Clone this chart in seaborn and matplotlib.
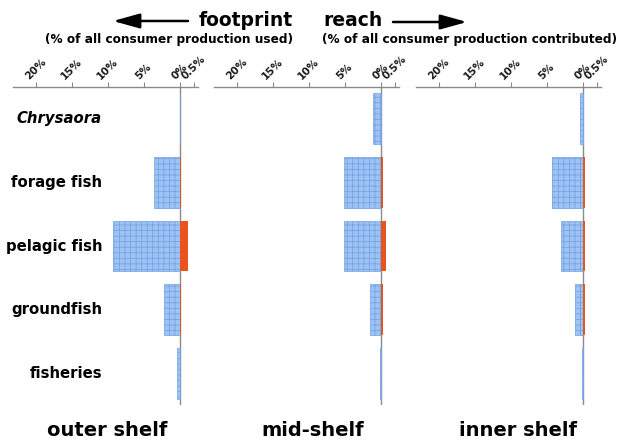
import numpy as np
import pandas as pd
import seaborn as sns
import matplotlib
matplotlib.use("Agg")
import matplotlib.pyplot as plt
from matplotlib import transforms
from matplotlib.patches import FancyArrowPatch

# Trophic groups (rows) and shelf regions (panels)
categories = ["Chrysaora", "forage fish", "pelagic fish", "groundfish", "fisheries"]
shelves = ["outer shelf", "mid-shelf", "inner shelf"]

# Footprint: % of all consumer production used
footprint_outer = [0.0, 3.6, 9.3, 2.1, 0.4]
footprint_mid = [1.1, 5.1, 5.1, 1.5, 0.1]
footprint_inner = [0.4, 4.3, 3.05, 1.1, 0.05]

# Reach: % of all consumer production contributed
reach_outer = [0.0, 0.07, 0.32, 0.06, 0.0]
reach_mid = [0.0, 0.09, 0.18, 0.07, 0.0]
reach_inner = [0.0, 0.07, 0.08, 0.09, 0.0]

footprint_ticks = [20, 15, 10, 5, 0]
reach_ticks = [0.5]
tick_labels = ["20%", "15%", "10%", "5%", "0%", "0.5%"]

# Reach is drawn on an expanded scale to the right of zero
REACH_SCALE = 3.9

BLUE = "#9dc3f5"
GRID_BLUE = "#74a2e2"
ORANGE = "#e8541c"
GREY = "#8a8a8a"

sns.set_style("white")
plt.rcParams["font.family"] = ["DejaVu Sans"]
plt.rcParams["text.color"] = "black"
plt.rcParams["hatch.linewidth"] = 0.55

W, H = 617, 442
fig = plt.figure(figsize=(W / 100, H / 100), dpi=100)

panel_left = [12.5, 213.7, 415.7]
footprints = [footprint_outer, footprint_mid, footprint_inner]
reaches = [reach_outer, reach_mid, reach_inner]

axes = []
for left, fp, rc in zip(panel_left, footprints, reaches):
    ax = fig.add_axes([left / W, 1 - 405 / H, 185 / W, 318 / H])
    df = pd.DataFrame({
        "group": categories,
        "footprint": -np.asarray(fp),
        "reach": np.asarray(rc) * REACH_SCALE,
    })
    ax.axvline(0, color=GREY, lw=1.0, zorder=0)
    sns.barplot(data=df, y="group", x="footprint", order=categories,
                orient="h", width=0.8, color=BLUE, saturation=1,
                edgecolor=GRID_BLUE, linewidth=0.5, hatch="+++",
                errorbar=None, ax=ax, zorder=2)
    sns.barplot(data=df, y="group", x="reach", order=categories,
                orient="h", width=0.8, color=ORANGE, saturation=1,
                linewidth=0, errorbar=None, ax=ax, zorder=2)

    ax.set_xlim(-23.2, 2.5)
    ax.set_ylim(len(categories) - 0.5, -0.5)
    ax.set_xlabel("")
    ax.set_ylabel("")
    ax.set_yticks([])
    ax.xaxis.tick_top()
    ticks = [-v for v in footprint_ticks] + [v * REACH_SCALE for v in reach_ticks]
    ax.set_xticks(ticks)
    ax.set_xticklabels(tick_labels, rotation=45, fontsize=7.5,
                       fontweight="bold", color="#1a1a1a")
    ax.tick_params(axis="x", direction="out", length=3.5, width=0.8,
                   color=GREY, pad=0.5)
    for side in ["left", "right", "bottom"]:
        ax.spines[side].set_visible(False)
    ax.spines["top"].set_color(GREY)
    ax.spines["top"].set_linewidth(1.0)
    ax.patch.set_alpha(0)
    axes.append(ax)

# Row labels to the left of the first panel
trans = transforms.blended_transform_factory(fig.transFigure, axes[0].transData)
for i, name in enumerate(categories):
    axes[0].text(102 / W, i, name, transform=trans, ha="right", va="center",
                 fontsize=10.7, fontweight="bold", color="black",
                 fontstyle="italic" if name == "Chrysaora" else "normal")

# Panel titles along the bottom
for x, name in zip([107, 313, 518], shelves):
    fig.text(x / W, 1 - 430 / H, name, ha="center", va="center",
             fontsize=14, fontweight="bold", color="black")

# Header with direction arrows
fig.text(293 / W, 1 - 20 / H, "footprint", ha="right", va="center",
         fontsize=13.5, fontweight="bold")
fig.text(293 / W, 1 - 40 / H, "(% of all consumer production used)",
         ha="right", va="center", fontsize=8.7, fontweight="bold")
fig.text(323 / W, 1 - 20 / H, "reach", ha="left", va="center",
         fontsize=13.5, fontweight="bold")
fig.text(322 / W, 1 - 40 / H, "(% of all consumer production contributed)",
         ha="left", va="center", fontsize=8.7, fontweight="bold")

for start, end in [((188, 21), (113, 21)), ((393, 22), (467, 22))]:
    arrow = FancyArrowPatch(
        (start[0] / W, 1 - start[1] / H), (end[0] / W, 1 - end[1] / H),
        transform=fig.transFigure,
        arrowstyle="-|>,head_length=0.9,head_width=0.25",
        lw=1.8, color="black", mutation_scale=18, shrinkA=0, shrinkB=0)
    fig.add_artist(arrow)

fig.savefig("out.png", dpi=100, facecolor="white")
